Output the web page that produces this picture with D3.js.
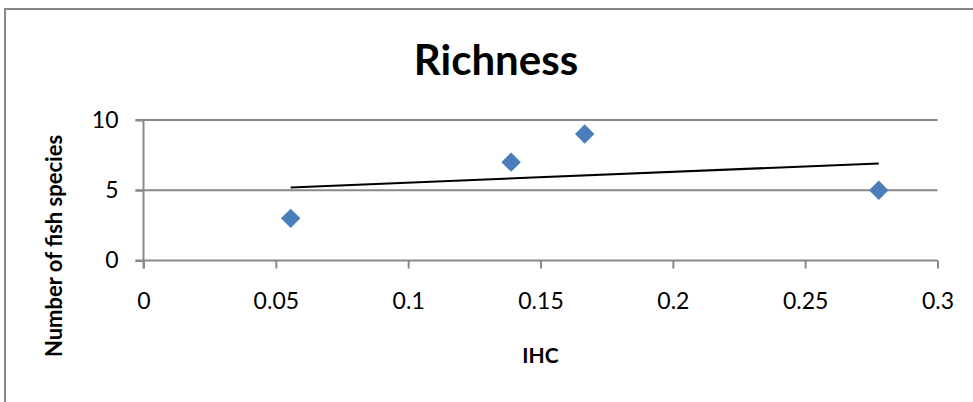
<!DOCTYPE html>
<html>
<head>
<meta charset="utf-8">
<script src="https://cdn.jsdelivr.net/npm/d3@7"></script>
<style>
  html, body { margin: 0; padding: 0; background: #fff; }
  svg { display: block; }
</style>
</head>
<body>
<svg id="chart" width="973" height="402"></svg>
<script>
// ---- data ----
const ihc = [0.0556, 0.1389, 0.1667, 0.2778];
const species = [3, 7, 9, 5];
const xTicks = [0, 0.05, 0.1, 0.15, 0.2, 0.25, 0.3];
const xTickLabels = ["0", "0.05", "0.1", "0.15", "0.2", "0.25", "0.3"];
const yTicks = [0, 5, 10];
const yTickLabels = ["0", "5", "10"];
const title = "Richness";
const xTitle = "IHC";
const yTitle = "Number of fish species";

const svg = d3.select("#chart");
const W = 973, H = 402;
const font = "Lato, 'Open Sans', sans-serif";
const grey = "#898989";

// chart border
svg.append("rect")
  .attr("x", 5).attr("y", 9)
  .attr("width", W + 20).attr("height", H + 20)
  .attr("fill", "#fff")
  .attr("stroke", grey).attr("stroke-width", 2);

const x = d3.scaleLinear().domain([0, 0.3]).range([143.5, 937.5]);
const y = d3.scaleLinear().domain([0, 10]).range([260.5, 120]);

// gridlines
svg.append("g").selectAll("line").data(yTicks.filter(d => d > 0)).join("line")
  .attr("x1", x(0) - 8).attr("x2", x(0.3))
  .attr("y1", d => y(d)).attr("y2", d => y(d))
  .attr("stroke", grey).attr("stroke-width", 2);

// x axis
const xAxis = d3.axisBottom(x).tickValues(xTicks)
  .tickFormat((d, i) => xTickLabels[i]).tickSize(8).tickPadding(24);
const gx = svg.append("g").attr("transform", `translate(0,${y(0)})`).call(xAxis);
gx.select(".domain").attr("stroke", grey).attr("stroke-width", 2)
  .attr("d", `M${x(0) - 8},0H${x(0.3)}`);
gx.selectAll(".tick line").attr("stroke", grey).attr("stroke-width", 2);
gx.selectAll(".tick text").attr("font-family", font).attr("font-size", 23).attr("fill", "#000");

// y axis
const yAxis = d3.axisLeft(y).tickValues(yTicks)
  .tickFormat((d, i) => yTickLabels[i]).tickSize(8).tickPadding(17);
const gy = svg.append("g").attr("transform", `translate(${x(0)},0)`).call(yAxis);
gy.select(".domain").attr("stroke", grey).attr("stroke-width", 2)
  .attr("d", `M0,${y(0) + 8}V${y(10)}`);
gy.selectAll(".tick line").attr("stroke", grey).attr("stroke-width", 2);
gy.selectAll(".tick text").attr("font-family", font).attr("font-size", 23).attr("fill", "#000");

// linear trendline (least squares)
const n = ihc.length;
const mx = d3.mean(ihc), my = d3.mean(species);
let sxy = 0, sxx = 0;
for (let i = 0; i < n; i++) { sxy += (ihc[i] - mx) * (species[i] - my); sxx += (ihc[i] - mx) ** 2; }
const slope = sxy / sxx, icpt = my - slope * mx;
const x0 = d3.min(ihc), x1 = d3.max(ihc);
svg.append("line")
  .attr("x1", x(x0)).attr("y1", y(icpt + slope * x0))
  .attr("x2", x(x1)).attr("y2", y(icpt + slope * x1))
  .attr("stroke", "#000").attr("stroke-width", 2);

// markers
const diamond = d3.symbol().type(d3.symbolDiamond2).size(240);
svg.append("g").selectAll("path").data(ihc.map((v, i) => [v, species[i]])).join("path")
  .attr("d", diamond)
  .attr("transform", d => `translate(${x(d[0])},${y(d[1])})`)
  .attr("fill", "#4a7ebb");

// titles
svg.append("text").attr("x", 496).attr("y", 75)
  .attr("text-anchor", "middle").attr("font-family", font)
  .attr("font-weight", "bold").attr("font-size", 42).text(title);

svg.append("text").attr("x", x(0.15)).attr("y", 363)
  .attr("text-anchor", "middle").attr("font-family", font)
  .attr("font-weight", "bold").attr("font-size", 21).text(xTitle);

svg.append("text")
  .attr("transform", `translate(62,246) rotate(-90)`)
  .attr("text-anchor", "middle").attr("font-family", font)
  .attr("font-weight", "bold").attr("font-size", 22).text(yTitle);
</script>
</body>
</html>
